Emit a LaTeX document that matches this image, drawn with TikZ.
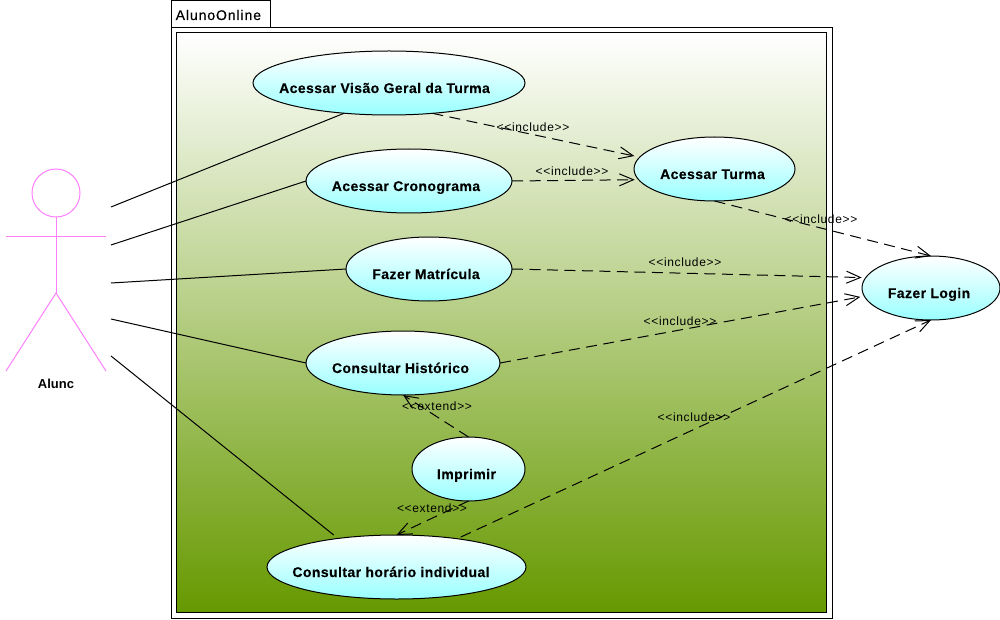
\documentclass[tikz,border=0pt]{standalone}
\usepackage{fontspec}
\setmainfont{Liberation Sans}
\newfontfamily\tabfont[FakeBold=0.35,LetterSpace=6.5]{Liberation Sans}
\newfontfamily\stereofont[LetterSpace=5.5]{Liberation Sans}
\newfontfamily\ucfont[LetterSpace=3,FakeBold=0.2]{Liberation Sans Bold}
\usetikzlibrary{arrows.meta,shapes.geometric}
\definecolor{actorpink}{HTML}{FF80FF}
\definecolor{ucbottom}{HTML}{99FFFF}
\definecolor{pkgbottom}{HTML}{669900}
\newcommand{\uctext}[2]{\raisebox{-10pt}[0pt][0pt]{\hbox to 0pt{\kern#1pt\makebox[0pt]{#2}\hss}}}
\tikzset{
  x=1pt,y=-1pt,
  pkgbox/.style={draw=black,line width=1pt,fill=white,inner sep=0,outer sep=0,rectangle,anchor=north west},
  usecase/.style={ellipse,draw=black,line width=1pt,inner sep=0,outer sep=0,top color=white,bottom color=ucbottom,minimum height=64pt,font=\fontsize{14}{16}\selectfont\ucfont},
  assoc/.style={draw=black,line width=1pt},
  dep/.style={draw=black,line width=1pt,dash pattern=on 11pt off 6.5pt,-{Straight Barb[length=14pt,width=12pt,line width=1pt]}},
  stereo/.style={font=\fontsize{12}{14}\selectfont\stereofont,inner sep=0,text=black},
  actorline/.style={draw=actorpink,line width=1pt},
}
\begin{document}
\begin{tikzpicture}
\useasboundingbox (0,0) rectangle (1000,620);
\fill[white] (0,0) rectangle (1000,620);
% package
\node[pkgbox,minimum width=99pt,minimum height=28pt] (tab) at (171,0.5) {};
\node[font=\fontsize{14}{16}\selectfont\tabfont,anchor=west,inner sep=0] (tabtext) at (175.5,15) {AlunoOnline};
\node[pkgbox,minimum width=661pt,minimum height=590pt] (outer) at (171,28) {};
\node[rectangle,draw=black,line width=1pt,inner sep=0,outer sep=0,anchor=north west,minimum width=650.5pt,minimum height=579.5pt,top color=white,bottom color=pkgbottom] (inner) at (176,33) {};
% actor
\node[circle,draw=actorpink,line width=1pt,fill=white,inner sep=0,outer sep=0,minimum size=48pt] (head) at (56,193) {};
\coordinate (neck) at (56,293);
\coordinate (armL) at (6,236.5);
\coordinate (armR) at (106,236.5);
\coordinate (legL) at (6,371);
\coordinate (legR) at (106,371);
\draw[actorline] (head.south) -- (neck);
\draw[actorline] (armL) -- (armR);
\draw[actorline] (legL) -- (neck) -- (legR);
\node[font=\fontsize{13}{15}\selectfont\bfseries,inner sep=0] (aluno) at (56,383.5) {Alunc};
% use cases
\node[usecase,minimum width=272pt] (visao) at (389,83) {\uctext{-4.5}{Acessar Visão Geral da Turma}};
\node[usecase,minimum width=206pt] (crono) at (409,181) {\uctext{-3}{Acessar Cronograma}};
\node[usecase,minimum width=166pt] (matr) at (429,269) {\uctext{-3}{Fazer Matrícula}};
\node[usecase,minimum width=194pt] (hist) at (403,363) {\uctext{-2.5}{Consultar Histórico}};
\node[usecase,minimum width=113pt] (impr) at (468.5,469) {\uctext{-2}{Imprimir}};
\node[usecase,minimum width=259pt] (hor) at (396.5,567) {\uctext{-5.5}{Consultar horário individual}};
\node[usecase,minimum width=161pt] (turma) at (714.5,169) {\uctext{-2}{Acessar Turma}};
\node[usecase,minimum width=138pt] (login) at (931,288) {\uctext{-2}{Fazer Login}};
% associations
\coordinate (a1) at (111,207);
\coordinate (a2) at (111,245);
\coordinate (a3) at (111,283);
\coordinate (a4) at (111,319);
\coordinate (a5) at (111,356);
\draw[assoc] (a1) -- (visao.214.6);
\draw[assoc] (a2) -- (crono.west);
\draw[assoc] (a3) -- (matr.west);
\draw[assoc] (a4) -- (hist.west);
\draw[assoc,shorten >=5.5pt] (a5) -- (hor.154.7);
% dependencies
\draw[dep,shorten >=5.5pt] (visao.-35.8) -- (turma.171.5);
\draw[dep,shorten >=4pt] (crono.east) -- (turma.188);
\draw[dep] (turma.south) -- (login.north);
\draw[dep,shorten >=4pt] (matr.east) -- (login.171);
\draw[dep,shorten >=4pt] (hist.east) -- (login.187.4);
\draw[dep,shorten <=4pt] (hor.25.3) -- (login.south);
\draw[dep] (impr.north) -- (hist.south);
\draw[dep] (impr.south) -- (hor.north);
% labels
\node[stereo] (l1) at (533,127) {<{}<include>{}>};
\node[stereo] (l2) at (572,171) {<{}<include>{}>};
\node[stereo] (l3) at (821,219) {<{}<include>{}>};
\node[stereo] (l4) at (685,262) {<{}<include>{}>};
\node[stereo] (l5) at (680,321) {<{}<include>{}>};
\node[stereo] (l6) at (694,417) {<{}<include>{}>};
\node[stereo] (l7) at (437,406) {<{}<extend>{}>};
\node[stereo] (l8) at (432,508) {<{}<extend>{}>};
\end{tikzpicture}
\end{document}
